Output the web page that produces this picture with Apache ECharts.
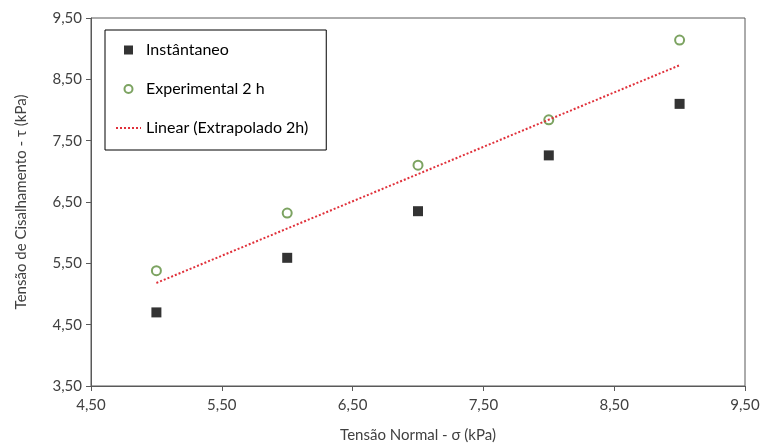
<!DOCTYPE html>
<html>
<head>
<meta charset="utf-8">
<script src="https://cdn.jsdelivr.net/npm/echarts@6/dist/echarts.min.js"></script>
<style>
    html, body { margin: 0; padding: 0; background: #fff; }
    #container { width: 764px; height: 448px; }
</style>
</head>
<body>
<div id="container"></div>
<script>
    // valores
    var tensaoNormal = [5, 6, 7, 8, 9];
    var instantaneo = [4.70, 5.59, 6.35, 7.26, 8.10];
    var experimental2h = [5.38, 6.32, 7.10, 7.84, 9.14];
    var linearX = [5, 9];
    var linearY = [5.18, 8.73];

    function pares(xs, ys) {
        return xs.map(function (x, i) { return [x, ys[i]]; });
    }
    function virgula(v) {
        return v.toFixed(2).replace('.', ',');
    }

    var fonte = 'Lato, "Liberation Sans", sans-serif';
    var myChart = echarts.init(document.getElementById('container'));

    // icones da legenda sem esticar (caixa 25x11, marca no meio)
    var iconeQuadrado = 'path://M0,0 M25,11 M8,1 h9 v9 h-9 z';
    var iconeCirculo = 'path://M0,0 M25,11 M16.5,5.5 a4,4 0 1,0 -8,0 a4,4 0 1,0 8,0 z';

    var option = {
        animation: false,
        textStyle: { fontFamily: fonte },
        grid: {
            left: 91, right: 19, top: 18, bottom: 60,
            show: true, borderColor: '#595959', borderWidth: 1
        },
        legend: {
            orient: 'vertical',
            left: 105, top: 30,
            padding: [12, 18, 14, 10],
            itemGap: 23,
            itemWidth: 25,
            itemHeight: 11,
            borderColor: '#000',
            borderWidth: 1,
            textStyle: { fontSize: 16, color: '#000', fontFamily: fonte },
            data: [
                { name: 'Instântaneo', icon: iconeQuadrado },
                { name: 'Experimental 2 h', icon: iconeCirculo },
                { name: 'Linear (Extrapolado 2h)', itemStyle: { opacity: 0 } }
            ]
        },
        xAxis: {
            type: 'value',
            min: 4.5, max: 9.5, interval: 1,
            name: 'Tensão Normal - σ (kPa)',
            nameLocation: 'middle',
            nameGap: 42,
            nameTextStyle: { fontSize: 15, color: '#404040' },
            axisLine: { show: true, lineStyle: { color: '#595959' } },
            axisTick: { show: true, length: 5, lineStyle: { color: '#595959' } },
            axisLabel: { fontSize: 15, color: '#404040', margin: 12, formatter: virgula },
            splitLine: { show: false }
        },
        yAxis: {
            type: 'value',
            min: 3.5, max: 9.5, interval: 1,
            name: 'Tensão de Cisalhamento - τ (kPa)',
            nameLocation: 'middle',
            nameGap: 62,
            nameTextStyle: { fontSize: 15, color: '#404040' },
            axisLine: { show: true, lineStyle: { color: '#595959' } },
            axisTick: { show: true, length: 5, lineStyle: { color: '#595959' } },
            axisLabel: { fontSize: 15, color: '#404040', margin: 9, formatter: virgula },
            splitLine: { show: false }
        },
        series: [
            {
                name: 'Instântaneo',
                type: 'scatter',
                symbol: 'rect',
                symbolSize: 10,
                itemStyle: { color: '#000' },
                data: pares(tensaoNormal, instantaneo)
            },
            {
                name: 'Experimental 2 h',
                type: 'scatter',
                symbol: 'circle',
                symbolSize: 9,
                itemStyle: { color: '#fff', borderColor: '#5b8c3a', borderWidth: 2 },
                data: pares(tensaoNormal, experimental2h)
            },
            {
                name: 'Linear (Extrapolado 2h)',
                type: 'line',
                symbol: 'none',
                lineStyle: { color: '#e0303a', width: 2, type: [2, 2] },
                itemStyle: { color: '#e0303a' },
                data: pares(linearX, linearY)
            }
        ]
    };
    myChart.setOption(option);
</script>
</body>
</html>
